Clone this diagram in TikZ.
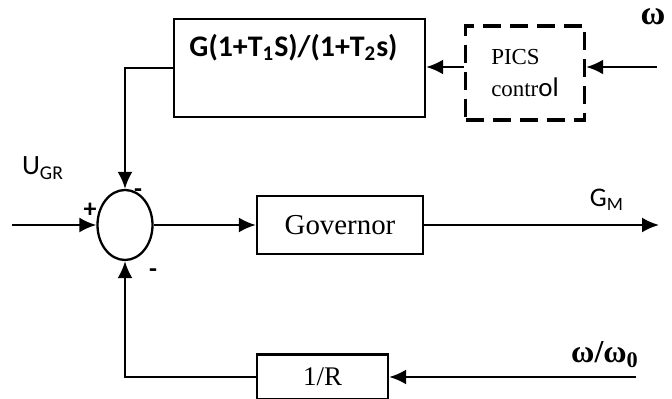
\documentclass[tikz,border=0pt]{standalone}
\usepackage{fontspec}
\setmainfont{Liberation Serif}
\newfontfamily\calfont{Carlito}
\usetikzlibrary{arrows.meta, shapes.geometric}

\begin{document}
\begin{tikzpicture}[
            x = 0.5bp, y = -0.5bp, % one unit per pixel of the sketch
            > = {Latex[length=8.5bp, width=7.5bp]}, % arrow head style
            line width = 1.15bp % line style
        ]

        \tikzstyle{block}=[
            draw = black,
            inner sep = 0pt
        ]
        \tikzstyle{dashbox}=[
            draw = black,
            line width = 1.7bp,
            dash pattern = on 9bp off 4.5bp,
            inner sep = 0pt
        ]
        \tikzstyle{sign}=[
            font = \calfont\bfseries\fontsize{13}{13}\selectfont,
            inner sep = 0pt
        ]

    \useasboundingbox (0,0) rectangle (672,399);

	\node[block, ellipse, minimum width=27.5bp, minimum height=35bp] (sum) at (125,225) {};
	\node[block, minimum width=83bp, minimum height=29bp,
	      font=\fontsize{14.5}{14.5}\selectfont] (gov) at (340,225) {Governor};
	\node[block, minimum width=125.5bp, minimum height=49bp,
	      label={[anchor=center, yshift=-15bp, xshift=-3bp,
	              font=\calfont\bfseries\fontsize{15}{15}\selectfont]north:G(1+T\textsubscript{1}S)/(1+T\textsubscript{2}s)}] (lead) at (299.5,68) {};
	\node[dashbox, minimum width=59.5bp, minimum height=47bp, align=left,
	      font=\fontsize{11.5}{16.5}\selectfont] (pics) at (525,73) {PICS\\contr{\calfont\fontsize{13.5}{16.5}\selectfont ol}};
	\node[block, minimum width=65.5bp, minimum height=22.5bp,
	      font=\fontsize{13.5}{13.5}\selectfont] (gain) at (322.5,377) {1/R};

	\coordinate (in) at (12,225);
	\coordinate (out) at (659,225);
	\coordinate (win) at (657,67);
	\coordinate (wrin) at (636,377);

	% labels
	\node[font=\calfont\fontsize{14}{14}\selectfont] (ugr) at (43,168) {U\textsubscript{GR}};
	\node[font=\calfont\fontsize{13.5}{13.5}\selectfont] (gm) at (607,200) {G\textsubscript{M}};
	\node[font=\bfseries\fontsize{17}{17}\selectfont] (w) at (653,17) {ω};
	\node[font=\bfseries\fontsize{16}{16}\selectfont] (wr) at (605,355) {ω/ω\textsubscript{0}};
	\node[sign] (plus) at (90,210) {+};
	\node[sign] (mtop) at (138,193) {-};
	\node[sign] (mbot) at (153,273) {-};

	% signal paths
	\draw[->] (in) -- (sum);
	\draw[->] (sum) -- (gov);
	\draw[->] (gov) -- (out);
	\draw[->] (win) -- (pics.east |- win);
	\draw[->] (pics.west |- win) -- (lead.east |- win);
	\draw[->] (lead.west) -| (sum.north);
	\draw[->] (wrin) -- (gain.east);
	\draw[->] (gain.west) -| (sum.south);

    \end{tikzpicture}
\end{document}
